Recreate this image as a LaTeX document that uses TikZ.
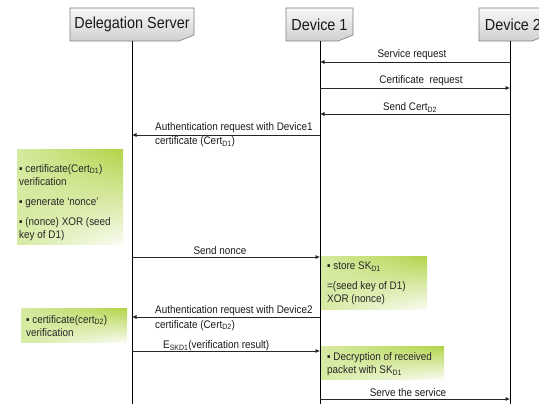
\documentclass[tikz,border=0pt]{standalone}
\usepackage{fontspec}
\setmainfont{Liberation Sans}[FakeStretch=0.9]
\usetikzlibrary{arrows.meta,shadings}

\definecolor{hdrtop}{RGB}{248,248,248}
\definecolor{hdrbot}{RGB}{208,208,208}
\definecolor{hdredge}{RGB}{125,125,125}
\definecolor{hdrfold}{RGB}{165,165,165}
\definecolor{grnsat}{RGB}{178,212,72}
\definecolor{grnlt}{RGB}{214,234,162}
\definecolor{grnwh}{RGB}{250,252,244}

% header box with a folded lower-right corner:
% name, x1, y1, x2, y2, lifeline x, text
\newcommand\headbox[7]{%
  \shade[top color=hdrtop,bottom color=hdrbot,draw=hdredge,line width=0.6pt]
    (#2,#3) -- (#4,#3) -- (#4,#5-6) -- (#4-15,#5) -- (#2,#5) -- cycle;
  \fill[hdrfold] (#4-15,#5) -- (#4,#5-6) -- (#4-6,#5-3) -- cycle;
  \node[hdr] (#1) at ({(#2+#4)/2},{(#3+#5)/2}) {#7};
  \coordinate (#1-foot) at (#6,#5);
}

% green note area: x1, y1, x2, y2
\newcommand\notearea[4]{%
  \shade[upper left=grnlt,upper right=grnsat,lower left=grnlt,lower right=grnwh]
    (#1,#2) rectangle (#3,#4);
}

\begin{document}
\begin{tikzpicture}[x=1pt,y=-1pt,
  life/.style={line width=0.9pt,black},
  msg/.style={line width=0.7pt,black!85,-{Latex[length=4.5pt,width=4pt]}},
  lbl/.style={font=\fontsize{11}{13}\selectfont,inner sep=0pt,text=black!90},
  note/.style={font=\fontsize{11}{13.3}\selectfont,align=left,inner sep=0pt,
    text=black!85,anchor=north west},
  hdr/.style={font=\fontsize{16}{18}\selectfont,inner sep=0pt,text=black!90}
]
\useasboundingbox (0,0) rectangle (539,404);
\clip (0,0) rectangle (539,404);

% participants
\headbox{ds}{70}{8}{194}{41}{132}{Delegation Server}
\headbox{da}{286}{8}{353}{41}{320}{Device 1}
\headbox{db}{479}{8}{547}{41}{510}{Device 2}

% lifelines
\coordinate (ds-end) at (132,405);
\coordinate (da-end) at (320,405);
\coordinate (db-end) at (510,405);
\draw[life] (ds-foot) -- (ds-end);
\draw[life] (da-foot) -- (da-end);
\draw[life] (db-foot) -- (db-end);

% message end points
\coordinate (m1s) at (510,62);  \coordinate (m1e) at (320,62);
\coordinate (m2s) at (320,88);  \coordinate (m2e) at (510,88);
\coordinate (m3s) at (510,114); \coordinate (m3e) at (320,114);
\coordinate (m4s) at (320,135); \coordinate (m4e) at (132,135);
\coordinate (m5s) at (132,257); \coordinate (m5e) at (320,257);
\coordinate (m6s) at (320,317); \coordinate (m6e) at (132,317);
\coordinate (m7s) at (132,351); \coordinate (m7e) at (320,351);
\coordinate (m8s) at (320,399); \coordinate (m8e) at (510,399);

\draw[msg] (m1s) -- (m1e);
\draw[msg] (m2s) -- (m2e);
\draw[msg] (m3s) -- (m3e);
\draw[msg] (m4s) -- (m4e);
\draw[msg] (m5s) -- (m5e);
\draw[msg] (m6s) -- (m6e);
\draw[msg] (m7s) -- (m7e);
\draw[msg] (m8s) -- (m8e);

% message labels
\node[lbl,anchor=base] (l1) at (412,58) {Service request};
\node[lbl,anchor=base] (l2) at (421,84) {Certificate\ \ request};
\node[lbl,anchor=base] (l3) at (410,110.5) {Send Cert\textsubscript{D2}};
\node[lbl,anchor=base west] (l4a) at (155,131) {Authentication request with Device1};
\node[lbl,anchor=base west] (l4b) at (155,145) {certificate (Cert\textsubscript{D1})};
\node[lbl,anchor=base] (l5) at (220,254) {Send nonce};
\node[lbl,anchor=base west] (l6a) at (155,313.5) {Authentication request with Device2};
\node[lbl,anchor=base west] (l6b) at (155,328) {certificate (Cert\textsubscript{D2})};
\node[lbl,anchor=base west] (l7) at (163,348.5) {E\textsubscript{SKD1}(verification result)};
\node[lbl,anchor=base] (l8) at (408,396) {Serve the service};

% processing notes
\notearea{17}{150}{123}{244}
\node[note] (n1) at (19,164)
  {▪ certificate(Cert\textsubscript{D1})\\verification\\[7pt]
   ▪ generate ‘nonce’\\[6.5pt]
   ▪ (nonce) XOR (seed\\key of D1)};

\notearea{321}{256}{427}{309}
\node[note] (n2) at (327,262)
  {▪ store SK\textsubscript{D1}\\[6.5pt]=(seed key of D1)\\XOR (nonce)};

\notearea{21}{308}{127}{342}
\node[note] (n3) at (26,315)
  {▪ certificate(cert\textsubscript{D2})\\verification};

\notearea{321}{346}{444}{379}
\node[note] (n4) at (327,352.5)
  {▪ Decryption of received\\packet with SK\textsubscript{D1}};

\end{tikzpicture}
\end{document}
